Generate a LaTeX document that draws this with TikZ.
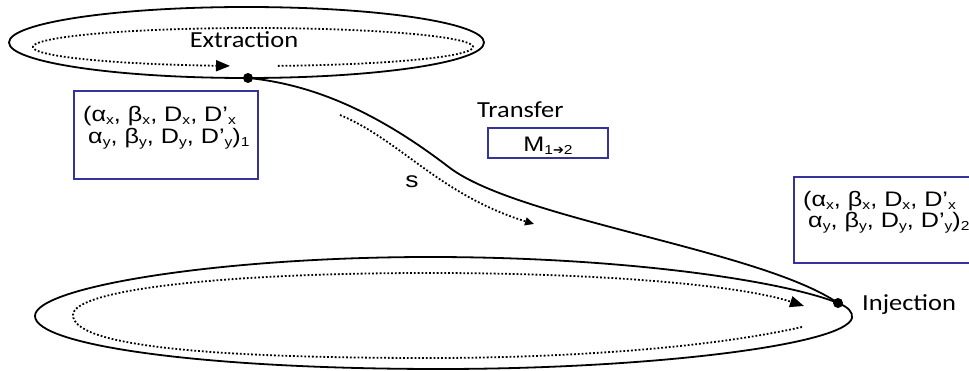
\documentclass[tikz,border=0pt]{standalone}
\usepackage{fontspec}
\setmainfont{Liberation Sans}[FakeStretch=1.2]
\newfontfamily\lblfont{Carlito}[FakeStretch=1.15]
\newfontfamily\arrfont{DejaVu Sans}
\usetikzlibrary{arrows.meta}
\definecolor{boxblue}{RGB}{51,51,153}
\newcommand{\lo}[1]{\raisebox{-2.5pt}{\fontsize{13}{13}\selectfont #1}}
\begin{document}
\begin{tikzpicture}[x=1pt,y=-1pt,
  ring/.style={line width=1.8pt},
  track/.style={line width=1.8pt, dash pattern=on 1.8pt off 2pt},
  bigtip/.style={-{Triangle[length=14pt,width=11pt]}},
  smalltip/.style={-{Triangle[length=9pt,width=8pt]}},
  blubox/.style={draw=boxblue, line width=2.2pt, inner sep=0pt, anchor=north west},
  param/.style={font=\fontsize{21}{21}\selectfont, anchor=base west, inner sep=0pt},
  lbl/.style={font=\lblfont\fontsize{23}{23}\selectfont, inner sep=0pt},
  dot/.style={circle, fill=black, inner sep=0pt, minimum size=10pt}]
\useasboundingbox (0,0) rectangle (969,371);
\clip (0,0) rectangle (969,371);
% top ring
\draw[ring] (246.5,42.5) ellipse [x radius=237.5, y radius=35.5];
\draw[track,bigtip] plot[domain=276.5:624, samples=160, variable=\t] ({253+220*cos(\t)}, {47-19*sin(\t)});
% dots
\node[dot] (ext) at (248,78) {};
\node[dot] (inj) at (838,303) {};
% transfer line
\draw[ring] (ext.center) .. controls (320,85) and (385,118) .. (450,168) .. controls (520,220) and (760,250) .. (inj.center);
% bottom ring
\draw[ring] (inj.center) .. controls (848,307) and (853,312) .. (852,318) .. controls (845,345) and (650,369) .. (440,369) .. controls (200,369) and (35,345) .. (35,316) .. controls (35,287) and (220,257) .. (430,257) .. controls (620,257) and (780,280) .. (inj.center);
\draw[track,bigtip] (802,327) .. controls (700,350) and (550,358) .. (430,358) .. controls (200,358) and (73,345) .. (73,315) .. controls (73,290) and (220,273) .. (430,273) .. controls (600,273) and (740,285) .. (804,306);
% s arrow
\draw[track,smalltip] (340,115) .. controls (400,140) and (440,195) .. (534,224);
% labels
\node[lbl, anchor=base] (extl) at (244,48) {Extraction};
\node[lbl, anchor=base west] (injl) at (862,310) {Injection};
\node[lbl, anchor=base west] (trl) at (477,118) {Transfer};
\node[font=\fontsize{22}{22}\selectfont, anchor=base, inner sep=0pt] (sl) at (412,188) {s};
% boxes
\node[blubox, minimum width=184pt, minimum height=88pt] (b1) at (73,90) {};
\node[param] (p1a) at (83,122) {(α\lo{x}, β\lo{x}, D\lo{x}, D’\lo{x}};
\node[param] (p1b) at (83,144) {\hspace{5pt}α\lo{y}, β\lo{y}, D\lo{y}, D’\lo{y})\lo{1}};
\node[blubox, minimum width=120pt, minimum height=30pt] (b2) at (487,127) {};
\node[param, anchor=base] (m) at (548,152) {M\lo{1{\arrfont➔}2}};
\node[blubox, minimum width=190pt, minimum height=86pt] (b3) at (793,176) {};
\node[param] (p2a) at (803,207) {(α\lo{x}, β\lo{x}, D\lo{x}, D’\lo{x}};
\node[param] (p2b) at (803,228) {\hspace{5pt}α\lo{y}, β\lo{y}, D\lo{y}, D’\lo{y})\lo{2}};
\end{tikzpicture}
\end{document}
